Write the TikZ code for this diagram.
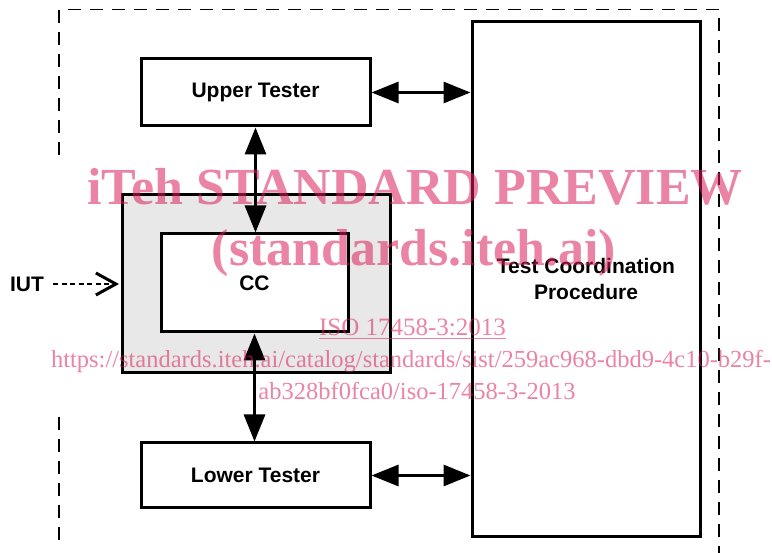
\documentclass[tikz,border=0pt]{standalone}
\usepackage{fontspec}
\newfontfamily\lblfont{Liberation Sans}
\newfontfamily\wmfont{Liberation Serif}
\usetikzlibrary{arrows.meta}
\definecolor{wmpink}{RGB}{218,30,90}
\definecolor{iutgray}{RGB}{232,232,232}
\begin{document}
\begin{tikzpicture}[x=1pt,y=-1pt,
  box/.style={draw, line width=3pt, inner sep=0pt, font=\lblfont\bfseries\fontsize{21}{26}\selectfont, align=center},
  lbl/.style={inner sep=0pt, font=\lblfont\bfseries\fontsize{21}{26}\selectfont},
  biarrow/.style={line width=3pt, {Triangle[length=27pt,width=21pt]}-{Triangle[length=27pt,width=21pt]}},
  outerframe/.style={line width=1.8pt, dash pattern=on 13pt off 9pt},
  iutarrow/.style={line width=2.8pt, dash pattern=on 5pt off 3.5pt, -{Straight Barb[length=20pt,width=22pt,line width=3pt]}, shorten >=2pt},
  wm/.style={text=wmpink, text opacity=0.55, inner sep=0pt, anchor=base},
  wmbig/.style={wm, font=\wmfont\bfseries\fontsize{52}{52}\selectfont},
  wmsmall/.style={wm, font=\wmfont\fontsize{24.5}{24.5}\selectfont}]
\useasboundingbox (0,0) rectangle (772,553);

% outer dashed frame
\draw[outerframe] (59,155) -- (59,9.5) -- (719,9.5) -- (719,553);
\draw[outerframe] (59,417) -- (59,545);

% boxes
\node[box, minimum width=229pt, minimum height=67pt] (ut) at (255.5,92.5) {Upper Tester};
\node[box, minimum width=228pt, minimum height=515pt] (tcp) at (586,279) {Test Coordination\\Procedure};
\node[box, fill=iutgray, minimum width=268pt, minimum height=178pt] (iut) at (256.5,284) {};
\node[box, fill=white, minimum width=187pt, minimum height=98pt] (cc) at (254.5,283) {CC};
\node[box, minimum width=229pt, minimum height=65pt] (lt) at (255.5,475.5) {Lower Tester};

% IUT label
\node[lbl] (iutlbl) at (27,284) {IUT};
\coordinate (iutstart) at (53,284);

% connectors
\draw[biarrow] (ut.east) -- (ut.east -| tcp.west);
\draw[biarrow] (lt.east) -- (lt.east -| tcp.west);
\draw[biarrow] (ut.south) -- (ut.south |- cc.north);
\draw[biarrow] (cc.south) -- (cc.south |- lt.north);
\draw[iutarrow] (iutstart) -- (iut.west);

% watermark
\node[wmbig] (wm1) at (415,205) {iTeh STANDARD PREVIEW};
\node[wmbig] (wm2) at (414,266) {(standards.iteh.ai)};
\node[wmsmall, font=\wmfont\fontsize{25}{25}\selectfont] (wm3) at (412.5,336) {\underline{ISO 17458-3:2013}};
\node[wmsmall] (wm4) at (411,368) {https://standards.iteh.ai/catalog/standards/sist/259ac968-dbd9-4c10-b29f-};
\node[wmsmall] (wm5) at (417,400) {ab328bf0fca0/iso-17458-3-2013};
\end{tikzpicture}
\end{document}
